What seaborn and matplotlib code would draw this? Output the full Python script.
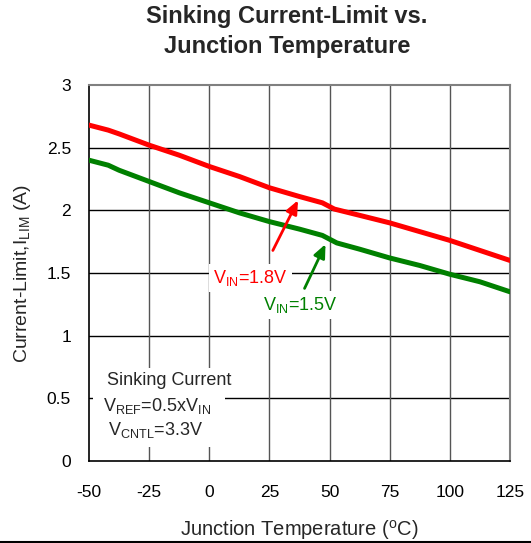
"""
Sinking current-limit vs junction temperature
"""

import numpy as np
import pandas as pd
import matplotlib
matplotlib.use("Agg")
import matplotlib.pyplot as plt
import seaborn as sns
from matplotlib.lines import Line2D

# Data
temp_18 = [-50, -42, -37.5, -25, -12.5, 0, 12.5, 25, 37.5, 47, 52, 62.5, 75, 87.5, 100, 112.5, 125]
ilim_18 = [2.68, 2.64, 2.61, 2.52, 2.44, 2.35, 2.27, 2.18, 2.11, 2.06, 2.01, 1.96, 1.90, 1.83, 1.76, 1.68, 1.60]

temp_15 = [-50, -42, -37.5, -25, -12.5, 0, 12.5, 25, 37.5, 47, 53, 62.5, 75, 87.5, 100, 112.5, 125]
ilim_15 = [2.40, 2.36, 2.32, 2.23, 2.14, 2.06, 1.98, 1.91, 1.85, 1.80, 1.74, 1.69, 1.62, 1.56, 1.49, 1.43, 1.35]

x_ticks = [-50, -25, 0, 25, 50, 75, 100, 125]
y_ticks = [0, 0.5, 1, 1.5, 2, 2.5, 3]
y_tick_labels = ["0", "0.5", "1", "1.5", "2", "2.5", "3"]

RED = "#ff0000"
GREEN = "#008000"

sns.set_style("white")
plt.rcParams["font.family"] = ["Liberation Sans", "DejaVu Sans"]
plt.rcParams["mathtext.fontset"] = "custom"
plt.rcParams["mathtext.rm"] = "Liberation Sans"
plt.rcParams["mathtext.it"] = "Liberation Sans"
plt.rcParams["axes.unicode_minus"] = False

df = pd.concat([
    pd.DataFrame({"temp": temp_18, "ilim": ilim_18, "vin": "1.8V"}),
    pd.DataFrame({"temp": temp_15, "ilim": ilim_15, "vin": "1.5V"}),
])

fig = plt.figure(figsize=(5.31, 5.43), dpi=100)
ax = fig.add_axes([89 / 531, 1 - 461 / 543, (510 - 89) / 531, (461 - 85) / 543])

sns.lineplot(data=df, x="temp", y="ilim", hue="vin", palette={"1.8V": RED, "1.5V": GREEN},
             linewidth=3.6, legend=False, ax=ax, zorder=3)

ax.set_xlim(-50, 125)
ax.set_ylim(0, 3)
ax.set_xticks(x_ticks)
ax.set_yticks(y_ticks)
ax.set_yticklabels(y_tick_labels)
ax.tick_params(axis="both", length=0, labelsize=12.5, colors="black")
ax.tick_params(axis="x", pad=17)
ax.tick_params(axis="y", pad=13)

# grid: black horizontals, grey verticals
for yv in y_ticks[1:-1]:
    ax.axhline(yv, color="black", lw=1.0, zorder=1)
for xv in x_ticks[1:-1]:
    ax.axvline(xv, color="#555555", lw=1.0, zorder=1)

for side in ["left", "bottom"]:
    ax.spines[side].set_color("black")
    ax.spines[side].set_linewidth(1.2)
for side in ["top", "right"]:
    ax.spines[side].set_color("#808080")
    ax.spines[side].set_linewidth(1.5)

ax.set_xlabel(r"Junction Temperature ($^{\mathrm{o}}$C)", fontsize=14.5, labelpad=13)
ax.set_ylabel(r"Current-Limit,I$_{\mathrm{LIM}}$ (A)", fontsize=14, labelpad=10)

# series labels with arrows
ax.annotate("", xy=(37.4, 2.10), xytext=(25.9, 1.66),
            arrowprops=dict(arrowstyle="-|>,head_length=0.8,head_width=0.35", color=RED, lw=2),
            zorder=4)
ax.annotate("", xy=(48.8, 1.75), xytext=(39.1, 1.357),
            arrowprops=dict(arrowstyle="-|>,head_length=0.8,head_width=0.35", color=GREEN, lw=2),
            zorder=4)
ax.text(17, 1.46, r"V$_{\mathrm{IN}}$=1.8V", color=RED, fontsize=13, ha="center", va="center",
        bbox=dict(facecolor="white", edgecolor="none", pad=3), zorder=5)
ax.text(38, 1.245, r"V$_{\mathrm{IN}}$=1.5V", color=GREEN, fontsize=13, ha="center", va="center",
        bbox=dict(facecolor="white", edgecolor="none", pad=3), zorder=5)

# conditions box
ax.add_patch(plt.Rectangle((-48.3, 0.11), 55, 0.63, facecolor="white", edgecolor="none", zorder=2))
ax.text(-42.5, 0.645, "Sinking Current", fontsize=13, va="center", zorder=5)
ax.text(-44, 0.44, r"V$_{\mathrm{REF}}$=0.5xV$_{\mathrm{IN}}$", fontsize=13, va="center", zorder=5)
ax.text(-42, 0.245, r"V$_{\mathrm{CNTL}}$=3.3V", fontsize=13, va="center", zorder=5)

fig.text(287 / 531, 1 - 17 / 543, "Sinking Current-Limit vs.", fontsize=17, fontweight="bold",
         ha="center", va="center")
fig.text(287 / 531, 1 - 47 / 543, "Junction Temperature", fontsize=17, fontweight="bold",
         ha="center", va="center")

# page rule along the bottom edge
fig.add_artist(Line2D([0, 1], [1 - 541.5 / 543] * 2, transform=fig.transFigure,
                      color="black", lw=1.5))

fig.savefig("out.png", dpi=100)
